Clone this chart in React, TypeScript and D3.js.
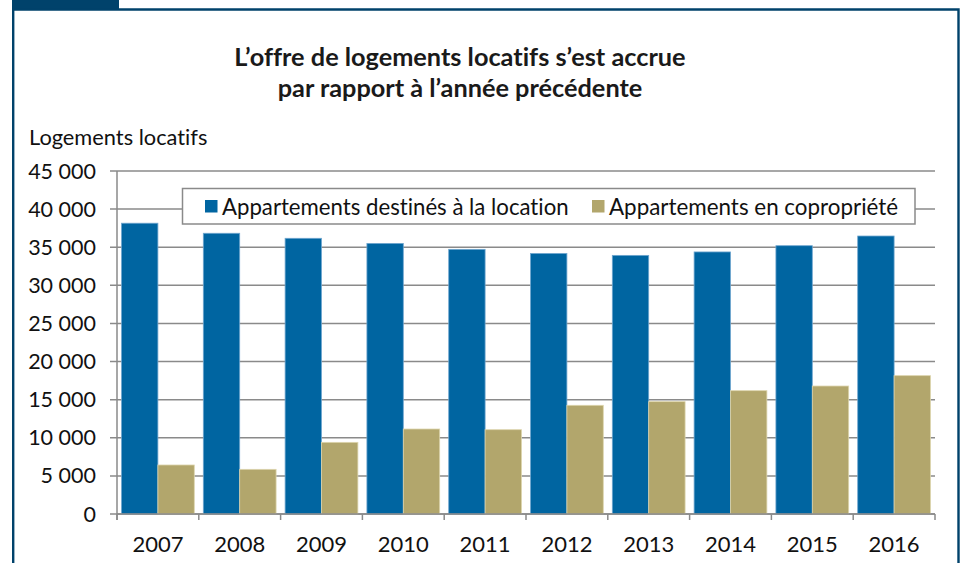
import * as d3 from "d3";

const years = ["2007", "2008", "2009", "2010", "2011", "2012", "2013", "2014", "2015", "2016"];
const locationValues = [38150, 36830, 36170, 35500, 34720, 34180, 33930, 34380, 35200, 36470];
const coproValues = [6430, 5860, 9400, 11150, 11060, 14260, 14740, 16180, 16790, 18150];
const seriesNames = ["Appartements destinés à la location", "Appartements en copropriété"];
const seriesColors = ["#0065a1", "#b2a66c"];
const seriesEdges = ["#6fa6cf", "#ddd5ad"];
const yTicks = [0, 5000, 10000, 15000, 20000, 25000, 30000, 35000, 40000, 45000];
const titleLines = ["L’offre de logements locatifs s’est accrue", "par rapport à l’année précédente"];
const yAxisLabel = "Logements locatifs";

const W = 962;
const H = 563;
const plot = { left: 117, right: 935, top: 171, bottom: 514 };
const navy = "#00426b";
const font = "Lato, 'DejaVu Sans', sans-serif";

const fmt = d3.formatLocale({ decimal: ",", thousands: " ", grouping: [3], currency: ["", " €"] }).format(",d");

export default function App() {
  const y = d3.scaleLinear().domain([0, 45000]).range([plot.bottom, plot.top]);
  const x = d3.scaleBand().domain(years).range([plot.left, plot.right]).paddingInner(0).paddingOuter(0);
  const xs = d3.scaleBand().domain(["0", "1"]).range([0, x.bandwidth()]).paddingInner(0).paddingOuter(0.124);
  const series = [locationValues, coproValues];

  return (
    <svg
      width={W}
      height={H}
      style={{ position: "absolute", left: 0, top: 0, fontVariantLigatures: "none" }}
      fontFamily={font}
    >
      <rect x={0} y={0} width={W} height={H} fill="#fff" />
      {/* frame */}
      <rect x={12} y={0} width={107} height={10} fill={navy} />
      <path d={`M13.2,${H + 5} V9.5 H958.5 V${H + 5}`} fill="none" stroke={navy} strokeWidth={2.4} />

      {/* title */}
      {titleLines.map((t, i) => (
        <text key={i} x={460} y={66 + i * 31} textAnchor="middle" fontSize={25.3} fontWeight={700} fill="#1a1a1a">
          {t}
        </text>
      ))}
      <text x={29} y={145} fontSize={21.8} fill="#111">{yAxisLabel}</text>

      {/* grid + y axis */}
      {yTicks.map((t) => (
        <g key={t}>
          <line x1={110} x2={plot.right} y1={y(t)} y2={y(t)} stroke="#8a8a8a" strokeWidth={1.5} />
          <text x={96} y={y(t) + 7.5} textAnchor="end" fontSize={21.5} fill="#111">{fmt(t)}</text>
        </g>
      ))}
      <line x1={plot.left} x2={plot.left} y1={plot.top} y2={plot.bottom + 6} stroke="#8a8a8a" strokeWidth={1.5} />

      {/* bars */}
      {series.map((vals, s) => (
        <g key={s}>
          {vals.map((v, i) => (
            <rect
              key={i}
              x={(x(years[i]) as number) + (xs(String(s)) as number)}
              y={y(v)}
              width={xs.bandwidth()}
              height={y(0) - y(v)}
              fill={seriesColors[s]}
              stroke={seriesEdges[s]}
              strokeWidth={0.8}
            />
          ))}
        </g>
      ))}

      {/* x axis */}
      <line x1={plot.left} x2={plot.right} y1={plot.bottom} y2={plot.bottom} stroke="#8a8a8a" strokeWidth={1.5} />
      {years.map((yr) => (
        <g key={yr}>
          <line x1={x(yr)} x2={x(yr)} y1={plot.bottom} y2={plot.bottom + 6} stroke="#8a8a8a" strokeWidth={1.5} />
          <text x={(x(yr) as number) + x.bandwidth() / 2} y={552} textAnchor="middle" fontSize={22} fill="#111">
            {yr}
          </text>
        </g>
      ))}
      <line x1={plot.right} x2={plot.right} y1={plot.bottom} y2={plot.bottom + 6} stroke="#8a8a8a" strokeWidth={1.5} />

      {/* legend */}
      <rect x={182.5} y={188.5} width={732.5} height={35.5} fill="#fff" stroke="#8a8a8a" strokeWidth={1.5} />
      <rect x={205} y={200} width={12.5} height={12.5} fill={seriesColors[0]} />
      <text x={222} y={214.5} fontSize={22.2} fill="#111">{seriesNames[0]}</text>
      <rect x={592} y={200} width={12.5} height={12.5} fill={seriesColors[1]} />
      <text x={609} y={214.5} fontSize={22.4} fill="#111">{seriesNames[1]}</text>
    </svg>
  );
}
